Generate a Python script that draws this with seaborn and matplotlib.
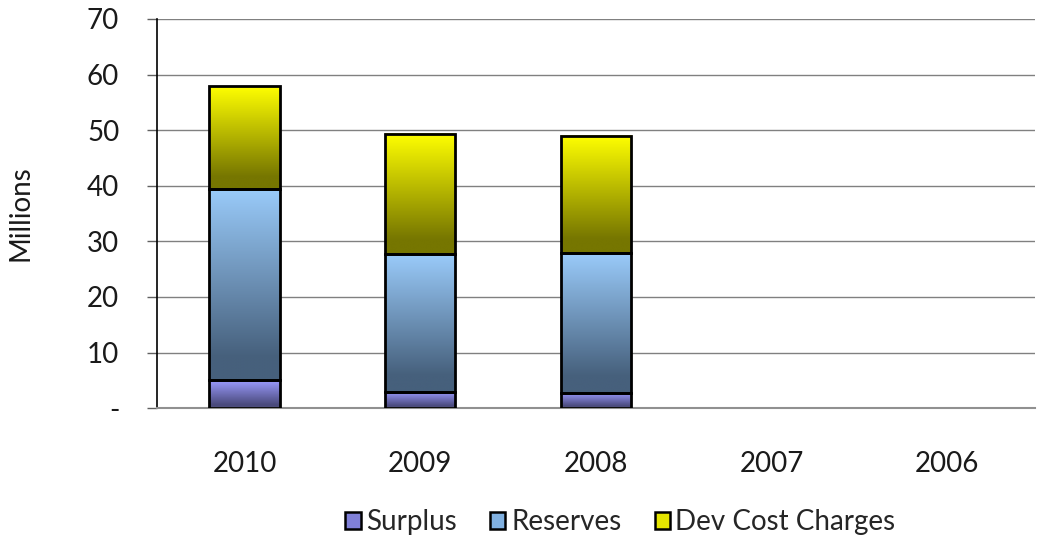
import numpy as np
import pandas as pd
import seaborn as sns
import matplotlib
matplotlib.use("Agg")
import matplotlib.pyplot as plt
from matplotlib.colors import LinearSegmentedColormap
from matplotlib.patches import Patch

years = ["2010", "2009", "2008", "2007", "2006"]
surplus = [5.0, 2.9, 2.8, 0, 0]
reserves = [34.4, 24.8, 25.1, 0, 0]
dev_cost = [18.5, 21.6, 21.1, 0, 0]
series_names = ["Surplus", "Reserves", "Dev Cost Charges"]

# top colour, bottom colour of each gradient
grad_colors = {
    "Surplus": ("#9c9cff", "#4a4a7c"),
    "Reserves": ("#9acbfa", "#46607c"),
    "Dev Cost Charges": ("#ffff00", "#767600"),
}
legend_colors = {"Surplus": "#8080d8", "Reserves": "#80b0e0", "Dev Cost Charges": "#e6e600"}

sns.set_theme(style="white")
plt.rcParams["font.family"] = ["Lato", "DejaVu Sans"]

fig = plt.figure(figsize=(10.38, 5.42), dpi=100)
ax = fig.add_axes([0.151, 0.247, 0.846, 0.718])

df = pd.DataFrame({"year": years, "Surplus": surplus, "Reserves": reserves,
                   "Dev Cost Charges": dev_cost})

bottom = np.zeros(len(years))
for name in series_names:
    n_before = len(ax.patches)
    sns.barplot(data=df, x="year", y=name, order=years, bottom=bottom.copy(),
                width=0.4, color="white", edgecolor="black", linewidth=2.0,
                errorbar=None, ax=ax, zorder=3)
    top_c, bot_c = grad_colors[name]
    cmap = LinearSegmentedColormap.from_list(name, [(0, bot_c), (0.12, bot_c), (1, top_c)])
    grad = np.linspace(0, 1, 256).reshape(-1, 1)
    for p in ax.patches[n_before:]:
        p.set_facecolor("none")
        h = p.get_height()
        if h <= 0:
            p.set_visible(False)
            continue
        x0, y0, w = p.get_x(), p.get_y(), p.get_width()
        ax.imshow(grad, cmap=cmap, origin="lower", aspect="auto",
                  extent=[x0, x0 + w, y0, y0 + h], zorder=2.5, interpolation="bilinear")
    bottom += df[name].to_numpy()

ax.set_xlim(-0.5, len(years) - 0.5)
ax.set_ylim(0, 70)
ax.set_yticks(range(0, 71, 10))
ax.set_yticklabels(["-"] + [str(v) for v in range(10, 71, 10)])
ax.yaxis.grid(True, color="#808080", linewidth=1.0, zorder=0)
ax.set_axisbelow(True)

for side in ["top", "right"]:
    ax.spines[side].set_visible(False)
ax.spines["left"].set_color("black")
ax.spines["left"].set_linewidth(1.2)
ax.spines["bottom"].set_color("#909090")
ax.spines["bottom"].set_linewidth(1.5)

ax.tick_params(axis="y", direction="out", length=7, width=1, color="#606060",
               pad=20, labelsize=20, left=True)
ax.tick_params(axis="x", length=0, pad=31, labelsize=20)
for lab in ax.get_xticklabels() + ax.get_yticklabels():
    lab.set_color("#1a1a1a")

ax.set_xlabel("")
ax.set_ylabel("Millions", fontsize=20, color="#1a1a1a")
ax.yaxis.set_label_coords(-0.14, 0.5)

handles = [Patch(facecolor=legend_colors[n], edgecolor="black", linewidth=1.8, label=n)
           for n in series_names]
ax.legend(handles=handles, loc="center", bbox_to_anchor=(0.528, -0.293), ncol=3,
          frameon=False, fontsize=20, handlelength=0.55, handleheight=0.55,
          handletextpad=0.2, columnspacing=1.2)

fig.savefig("out.png", dpi=100)
